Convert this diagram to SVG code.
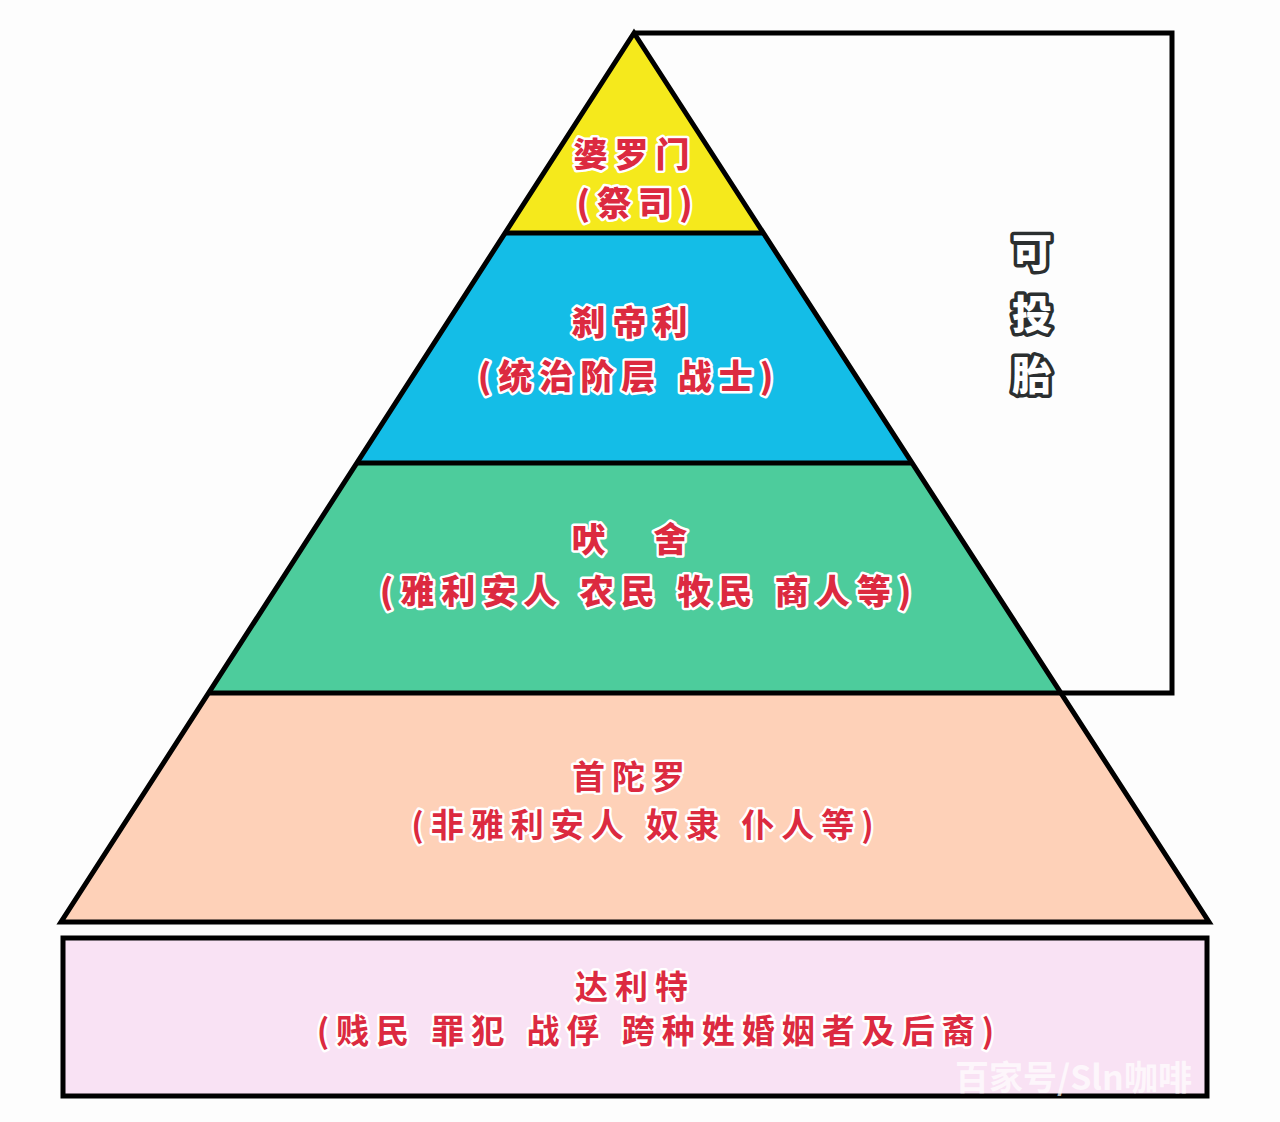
<svg xmlns="http://www.w3.org/2000/svg" width="1280" height="1122" viewBox="0 0 1280 1122">
<style>
.lbl{font-family:"Noto Sans CJK SC","Noto Sans",sans-serif;font-weight:900;font-size:34px;letter-spacing:7px;fill:#dc2a40;stroke:#ffffff;stroke-width:5;stroke-linejoin:round;paint-order:stroke;text-anchor:middle}
.lbl2{font-weight:700;font-size:33px;letter-spacing:7px}
.side{font-family:"Noto Sans CJK SC","Noto Sans",sans-serif;font-weight:900;font-size:40px;fill:#ffffff;stroke:#2b2f30;stroke-width:7;stroke-linejoin:round;paint-order:stroke;text-anchor:middle}
.ln{fill:none;stroke:#000;stroke-width:5;stroke-linejoin:miter}
.wm{font-family:"Noto Sans CJK SC","Noto Sans",sans-serif;font-weight:700;font-size:34px;fill:#ffffff;opacity:0.7}
</style>
<rect width="1280" height="1122" fill="#fdfdfd"/>
<g id="bracket">
<polyline class="ln" points="634,33 1172,33 1172,693 1058,693"/>
</g>
<g id="brahmin">
<polygon points="634,33 506,233 764,233" fill="#f5e91c"/>
<text class="lbl" x="635" y="167">婆罗门</text>
<text class="lbl" x="638" y="216">(祭司)</text>
</g>
<g id="kshatriya">
<polygon points="506,233 764,233 912,463 358,463" fill="#14bde7"/>
<text class="lbl" x="633" y="335">刹帝利</text>
<text class="lbl" x="629" y="389">(统治阶层&#8197;战士)</text>
</g>
<g id="vaishya">
<polygon points="358,463 912,463 1060,693 210,693" fill="#4dcc9c"/>
<text class="lbl" x="633" y="552">吠　舍</text>
<text class="lbl" x="649" y="604">(雅利安人&#8197;农民&#8197;牧民&#8197;商人等)</text>
</g>
<g id="shudra">
<polygon points="210,693 1060,693 1209,922 61,922" fill="#fed1b8"/>
<text class="lbl lbl2" x="632" y="789">首陀罗</text>
<text class="lbl lbl2" x="646" y="837">(非雅利安人&#8197;奴隶&#8197;仆人等)</text>
</g>
<g id="pyramid-lines">
<polygon class="ln" points="634,33 1209,922 61,922"/>
<line class="ln" x1="506" y1="233" x2="764" y2="233"/>
<line class="ln" x1="358" y1="463" x2="912" y2="463"/>
<line class="ln" x1="210" y1="693" x2="1060" y2="693"/>
</g>
<g id="dalit">
<rect x="63" y="938" width="1144" height="158" fill="#f9e2f4" stroke="#000" stroke-width="5"/>
<text class="lbl lbl2" x="635" y="999">达利特</text>
<text class="lbl lbl2" x="659" y="1043">(贱民&#8197;罪犯&#8197;战俘&#8197;跨种姓婚姻者及后裔)</text>
</g>
<g id="reincarnation">
<text class="side" x="1032" y="267">可</text>
<text class="side" x="1032" y="329">投</text>
<text class="side" x="1032" y="390">胎</text>
</g>
<text class="wm" x="955" y="1090">百家号/Sln咖啡</text>
</svg>
